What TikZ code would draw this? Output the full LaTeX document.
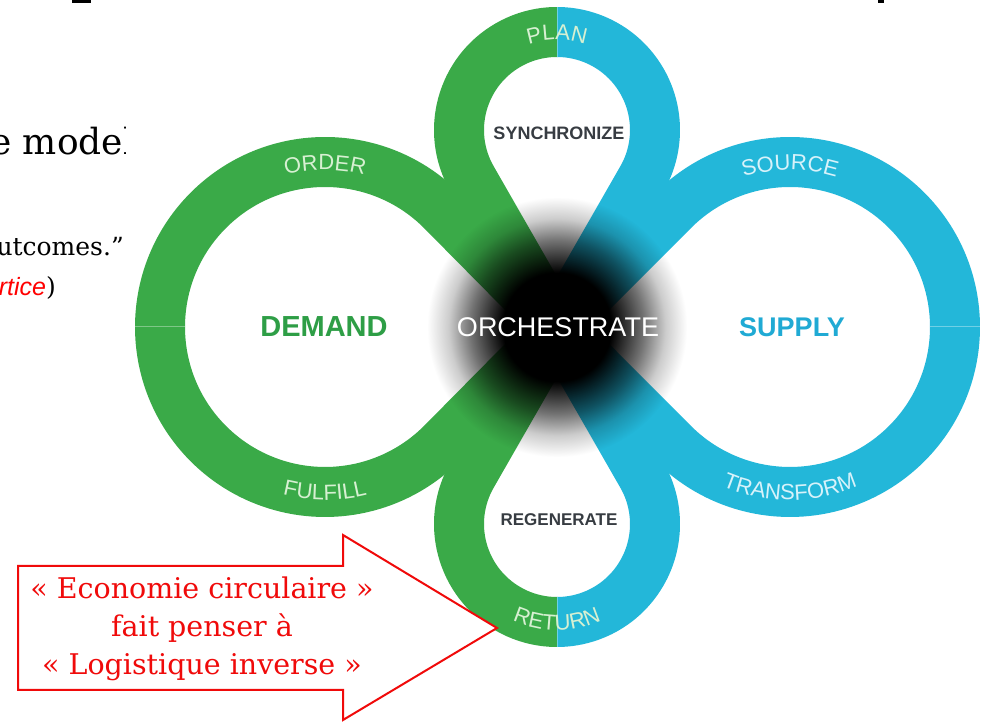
\documentclass[tikz,border=0pt]{standalone}
\usepackage{fontspec}
\setmainfont{DejaVu Serif}
\setsansfont{Liberation Sans}
\usetikzlibrary{positioning, calc, decorations.text, fadings}
\definecolor{loopgreen}{RGB}{58, 170, 72}
\definecolor{loopblue}{RGB}{35, 183, 217}
\definecolor{demandgreen}{RGB}{46, 158, 70}
\definecolor{supplyblue}{RGB}{32, 170, 212}
\definecolor{tagdark}{RGB}{55, 60, 66}
\definecolor{tagongreen}{RGB}{215, 240, 210}
\definecolor{tagonblue}{RGB}{215, 242, 250}
\definecolor{notered}{RGB}{240, 10, 10}
\newcommand{\tagfont}{\sffamily\fontsize{22}{22}\selectfont}
\pgfdeclareradialshading{hubshade}{\pgfpointorigin}{color(0bp)=(white); color(10bp)=(white); color(16bp)=(black!45); color(20bp)=(black!80); color(24bp)=(black); color(50bp)=(black)}
\pgfdeclarefading{hubfade}{\pgfuseshading{hubshade}}
\tikzset{
  band/.style={line width=50pt, line join=round},
  seam/.style={white, opacity=.35, line width=1pt},
  greentag/.style={decorate, decoration={text along path, text align=center, text color=tagongreen, text={|\tagfont|#1}}},
  bluetag/.style={decorate, decoration={text along path, text align=center, text color=tagonblue, text={|\tagfont|#1}}},
  notearrow/.style={draw=notered, line width=2pt, fill=white}
}

\begin{document}
\begin{tikzpicture}[x=1pt, y=1pt]
  \useasboundingbox (0,0) rectangle (986,722);
  \fill[white] (0,0) rectangle (986,722);

  % bits of the slide around the picture
  \fill (72,719) rectangle (91,722);
  \fill (878,719) rectangle (884,722);
  \begin{scope}
    \clip (0,0) rectangle (125,722);
    \node[anchor=base west, inner sep=0pt, font=\fontsize{36}{36}\selectfont] (model) at (-10,567) {e model};
    \node[anchor=base east, inner sep=0pt, font=\fontsize{25}{25}\selectfont] (outcomes) at (124,466) {utcomes.”};
    \node[anchor=base east, inner sep=0pt, font=\fontsize{25}{25}\selectfont] (practice) at (56,426) {\textcolor{red}{\sffamily\itshape rtice})};
  \end{scope}

  % centres of the four lobes
  \coordinate (hub) at (557,395);
  \coordinate (planc) at (557,592);
  \coordinate (retc) at (557,198);
  \coordinate (demc) at (325,395);
  \coordinate (supc) at (790,395);

  % the lobes, green on the left and blue on the right
  \foreach \xa/\xb/\col in {0/557/loopgreen, 557/986/loopblue} {
    \begin{scope}
      \clip (\xa,0) rectangle (\xb,722);
      \draw[band, \col] (hub) -- ($(planc)+(209.83:98)$) arc[start angle=209.83, end angle=-29.83, radius=98] -- cycle;
      \draw[band, \col] (hub) -- ($(retc)+(150.17:98)$) arc[start angle=150.17, end angle=389.83, radius=98] -- cycle;
      \draw[band, \col] (hub) -- ($(demc)+(44.67:165)$) arc[start angle=44.67, end angle=315.33, radius=165] -- cycle;
      \draw[band, \col] (hub) -- ($(supc)+(135.33:165)$) arc[start angle=135.33, end angle=-135.33, radius=165] -- cycle;
    \end{scope}
  }
  \draw[seam] (557,665) -- (557,715);
  \draw[seam] (557,75) -- (557,125);
  \draw[seam] (135,395) -- (185,395);
  \draw[seam] (930,395) -- (980,395);

  % dark blur in the middle
  \fill[black, path fading=hubfade] (hub) circle (135);

  % labels
  \node[font=\sffamily\bfseries\fontsize{29}{29}\selectfont, text=demandgreen] (demand) at (324,395) {DEMAND};
  \node[font=\sffamily\bfseries\fontsize{27}{27}\selectfont, text=supplyblue] (supply) at (792,395) {SUPPLY};
  \node[font=\sffamily\fontsize{27}{27}\selectfont, text=white] (orchestrate) at (558,395) {ORCHESTRATE};
  \node[font=\sffamily\bfseries\fontsize{18}{18}\selectfont, text=tagdark] (synchronize) at (559,589) {SYNCHRONIZE};
  \node[font=\sffamily\bfseries\fontsize{17}{17}\selectfont, text=tagdark] (regenerate) at (559,202) {REGENERATE};

  \path[greentag=ORDER] ($(demc)+(130:157)$) arc[start angle=130, end angle=50, radius=157];
  \path[greentag=FULFILL] ($(demc)+(230:173)$) arc[start angle=230, end angle=310, radius=173];
  \path[bluetag=SOURCE] ($(supc)+(130:157)$) arc[start angle=130, end angle=50, radius=157];
  \path[bluetag=TRANSFORM] ($(supc)+(230:173)$) arc[start angle=230, end angle=310, radius=173];
  \path[greentag=PLAN] ($(planc)+(130:90)$) arc[start angle=130, end angle=50, radius=90];
  \path[greentag=RETURN] ($(retc)+(230:106)$) arc[start angle=230, end angle=310, radius=106];

  % red block arrow with its note
  \draw[notearrow] (18,156) -- (343,156) -- (343,187) -- (497,94) -- (343,2) -- (343,32) -- (18,32) -- cycle;
  \node[font=\fontsize{28.5}{38}\selectfont, text=notered, align=center] (note) at (202,93) {« Economie circulaire »\\fait penser à\\« Logistique inverse »};
\end{tikzpicture}
\end{document}
